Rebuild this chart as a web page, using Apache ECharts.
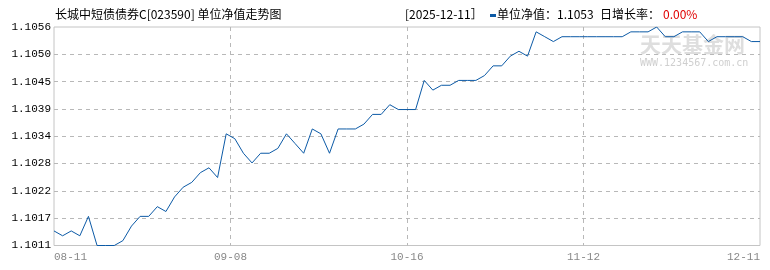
<!DOCTYPE html>
<html><head><meta charset="utf-8">
<script src="https://cdn.jsdelivr.net/npm/echarts@6/dist/echarts.min.js"></script>
<style>html,body{margin:0;padding:0;background:#fff}#c{width:770px;height:270px}</style>
</head><body><div id="c"></div>
<script>
const dates = [
 '08-11','08-12','08-13','08-14','08-15','08-18','08-19','08-20','08-21','08-22','08-25','08-26','08-27','08-28','08-29',
 '09-01','09-02','09-03','09-04','09-05','09-08','09-09','09-10','09-11','09-12','09-15','09-16','09-17','09-18','09-19','09-22','09-23','09-24','09-25','09-26','09-29','09-30',
 '10-09','10-10','10-13','10-14','10-15','10-16','10-17','10-20','10-21','10-22','10-23','10-24','10-27','10-28','10-29','10-30','10-31',
 '11-03','11-04','11-05','11-06','11-07','11-10','11-11','11-12','11-13','11-14','11-17','11-18','11-19','11-20','11-21','11-24','11-25','11-26','11-27','11-28',
 '12-01','12-02','12-03','12-04','12-05','12-08','12-09','12-10','12-11'
];
const navValues = [
 1.1014,1.1013,1.1014,1.1013,1.1017,1.1011,1.1011,1.1011,1.1012,1.1015,
 1.1017,1.1017,1.1019,1.1018,1.1021,1.1023,1.1024,1.1026,1.1027,1.1025,
 1.1034,1.1033,1.1030,1.1028,1.1030,1.1030,1.1031,1.1034,1.1032,1.1030,
 1.1035,1.1034,1.1030,1.1035,1.1035,1.1035,1.1036,1.1038,1.1038,1.1040,
 1.1039,1.1039,1.1039,1.1045,1.1043,1.1044,1.1044,1.1045,1.1045,1.1045,
 1.1046,1.1048,1.1048,1.1050,1.1051,1.1050,1.1055,1.1054,1.1053,1.1054,
 1.1054,1.1054,1.1054,1.1054,1.1054,1.1054,1.1054,1.1055,1.1055,1.1055,
 1.1056,1.1054,1.1054,1.1055,1.1055,1.1055,1.1053,1.1054,1.1054,1.1054,
 1.1054,1.1053,1.1053
];
const yTickLabels = ['1.1011','1.1017','1.1022','1.1028','1.1034','1.1039','1.1045','1.1050','1.1056'];
const xTickLabels = ['08-11','09-08','10-16','11-12','12-11'];
const fundTitle = '长城中短债债券C[023590] 单位净值走势图';
const latestDate = '2025-12-11';
const dailyGrowth = '0.00%';

const yMin = 1.1011, yMax = 1.1056, yStep = (yMax - yMin) / (yTickLabels.length - 1);
const lineColor = '#0c5aa6';
const cjk = '"Noto Sans CJK SC"';

const chart = echarts.init(document.getElementById('c'), null, {renderer: 'canvas'});
chart.setOption({
  animation: false,
  grid: {left: 54, right: 10, top: 27, bottom: 24.5, show: true, borderColor: '#c4c4c4', borderWidth: 1, containLabel: false},
  xAxis: [
    {type: 'category', data: dates, boundaryGap: false, show: false},
    {type: 'value', min: 0, max: xTickLabels.length - 1, interval: 1, position: 'bottom',
     axisLine: {show: false}, axisTick: {show: false},
     axisLabel: {formatter: v => xTickLabels[Math.round(v)], color: '#888', fontSize: 11, fontFamily: '"Liberation Mono"', margin: 6,
                 alignMinLabel: 'left', alignMaxLabel: 'right'},
     splitLine: {show: true, showMinLine: false, showMaxLine: false, lineStyle: {type: [4, 4], color: '#b8b8b8', width: 1}}}
  ],
  yAxis: {type: 'value', min: yMin, max: yMax, interval: yStep,
    axisLine: {show: false}, axisTick: {show: false},
    axisLabel: {formatter: v => yTickLabels[Math.round((v - yMin) / yStep)], color: '#000', fontSize: 11, fontFamily: '"Liberation Mono"', margin: 3},
    splitLine: {show: true, showMinLine: false, showMaxLine: false, lineStyle: {type: [4, 4], color: '#b8b8b8', width: 1}}},
  graphic: [
    {type: 'text', left: 640, top: 34, z: 0, style: {text: '天天基金网', font: 'bold 21px ' + cjk, fill: '#dedede'}},
    {type: 'text', left: 640, top: 58, z: 0, style: {text: 'WWW.1234567.com.cn', font: '10px "DejaVu Sans Mono"', fill: '#cfcfcf'}},
    {type: 'text', left: 55, top: 8, style: {text: fundTitle, font: '12px ' + cjk, fill: '#000'}},
    {type: 'text', left: 405, top: 8, style: {text: '[' + latestDate + '］', font: '12px ' + cjk, fill: '#000'}},
    {type: 'rect', shape: {x: 490, y: 14, width: 6, height: 3}, style: {fill: lineColor}},
    {type: 'text', left: 497, top: 8, style: {text: '单位净值：' + navValues[navValues.length - 1].toFixed(4), font: '12px ' + cjk, fill: '#000'}},
    {type: 'text', left: 600, top: 8, style: {text: '日增长率：', font: '12px ' + cjk, fill: '#000'}},
    {type: 'text', left: 663, top: 8, style: {text: dailyGrowth, font: '12px ' + cjk, fill: '#e00000'}}
  ],
  series: [{type: 'line', xAxisIndex: 0, data: navValues, showSymbol: false, symbol: 'none',
    lineStyle: {color: lineColor, width: 1}, z: 3}]
});
</script></body></html>
